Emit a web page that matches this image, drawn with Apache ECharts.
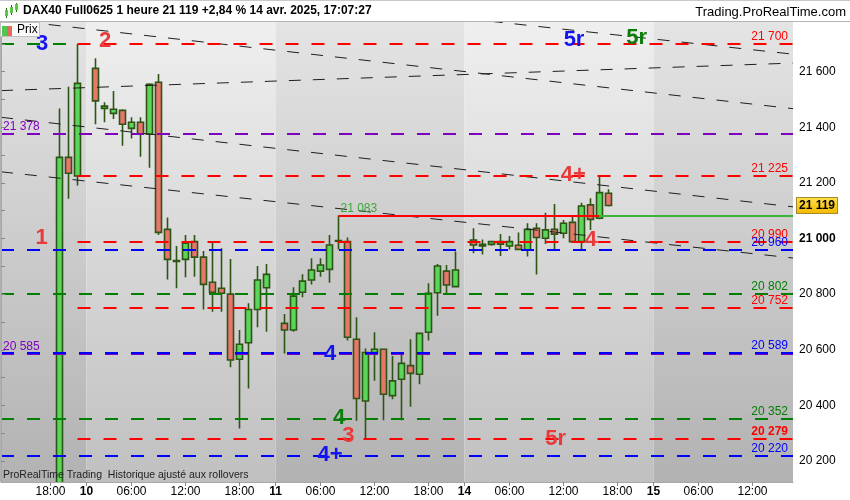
<!DOCTYPE html>
<html>
<head>
<meta charset="utf-8">
<script src="https://cdn.jsdelivr.net/npm/echarts/dist/echarts.min.js"></script>
<style>
html,body{margin:0;padding:0;background:#fff;}
#chart{width:850px;height:500px;}
</style>
</head>
<body>
<div id="chart"></div>
<script>
// ---------------- data ----------------
const tradingDays = ['09', '10', '11', '14', '15'];
const dayFirstHour = [13, 1, 1, 1, 1];
const dayLastHour = [21, 21, 21, 21, 16];
const timeLabelHours = ['06', '12', '18'];

// hourly bars, starting at category index FIRST_BAR (null = no bar)
const FIRST_BAR = 6;
const opens = [19900,21292,21225,null,
  21612,21468,21450,21461,21396,21418,21375,21562,21033,20918,20925,20989,20933,20843,20821,20800,20566,20625,20745,20823,null,
  20695,20671,20807,20851,20883,20889,20990,20989,20638,20416,20590,20602,20435,20494,20543,20512,20663,20805,20883,20827,null,
  20995,20979,20979,20989,20973,20976,20959,21037,21001,21033,21019,21058,20989,21121,21073,21163];
const closes = [21292,21235,21558,null,
  21495,21476,21465,21411,21418,21375,21555,21022,20925,20921,20983,20933,20835,20807,20803,20563,20620,20745,20851,20871,null,
  20671,20793,20847,20887,20905,20977,20993,20645,20425,20590,20602,20440,20488,20551,20515,20659,20803,20901,20833,20887,null,
  20977,20973,20989,20980,20989,20961,21033,21004,21031,21016,21055,20989,21117,21069,21165,21119];
const lows = [19850,21143,21191,null,
  21411,21418,21430,21334,21360,21294,21255,21013,20853,20821,20861,20863,20745,20737,20737,20537,20317,20461,20681,20665,null,
  20587,20665,20789,20835,20863,20841,20961,20633,20345,20279,20489,20347,20422,20347,20395,20476,20633,20722,20800,20827,null,
  20947,20943,20974,20937,20961,20958,20935,20871,20980,20961,21001,20985,20961,21031,21069,21115];
const highs = [21468,21546,21700,null,
  21648,21490,21531,21465,21436,21436,21558,21592,21076,20973,21013,21013,20955,20985,20965,20926,20671,20767,20901,20908,null,
  20729,20825,20872,20929,20929,21013,21083,21004,20717,20605,20663,20605,20578,20590,20638,20661,20839,20908,20905,20953,null,
  21037,20997,20992,21016,21009,21022,21055,21055,21093,21124,21067,21081,21129,21145,21222,21177];
const lastPrice = 21119;

const yMin = 20124.5, yMax = 21778.7;
const yLabelValues = [20200, 20400, 20600, 20800, 21000, 21200, 21400, 21600];
const yTickValues = [20200, 20300, 20400, 20500, 20600, 20700, 20800, 20900, 21000, 21100, 21200, 21300, 21400, 21500, 21600, 21700];

// horizontal levels (bar index where they start / end, null = chart edge)
const levelValues  = [21700, 21700, 21378, 21225, 21083, 21083, 20990, 20960, 20802, 20752, 20585, 20589, 20352, 20279, 20220];
const levelFromBar = [null,  8,     null,  8,     37,    66,    8,     null,  null,  8,     null,  null,  null,  8,     null];
const levelToBar   = [8,     null,  null,  null,  66,    null,  null,  null,  null,  null,  null,  null,  null,  null,  null];

// trend lines: [slotStart, priceStart, slotEnd, priceEnd] (slot units of the time axis)
const trendA = [0, 21789, 88, 21467];
const trendB = [33.2, 21856, 88, 21663];
const trendC = [0, 21532, 88, 21631];
const trendD = [0, 21436, 88, 21114];
const trendE = [0, 21240, 88, 20930];

// wave annotations
const annoTexts  = ['3', '2', '1', '5r', '5r', '4+', '4', '4', '4', '3', '4+', '5r'];
const annoSlots  = [4.56, 11.56, 4.52, 63.67, 70.63, 63.59, 65.53, 36.56, 37.56, 38.59, 36.56, 61.64];
const annoPrices = [21701, 21710, 21001, 21714, 21720, 21228, 20995, 20585, 20356, 20291, 20221, 20279];

// ---------------- build ----------------
const RED = '#ff0000', BLUE = '#0000ff', GREEN = '#008000', PURPLE = '#8000c0';
const ARED = '#e83a3a', ABLUE = '#1414f0', AGREEN = '#0b7d0b';
const annoColors = [ABLUE, ARED, ARED, ABLUE, AGREEN, ARED, ARED, ABLUE, AGREEN, ARED, ABLUE, ARED];
const levelStyle = [
  {c: GREEN, solid: false, label: null},
  {c: RED, solid: false, label: 'right'},
  {c: PURPLE, solid: false, label: 'left'},
  {c: RED, solid: false, label: 'right'},
  {c: RED, solid: true, label: 'left', lc: '#3aa83a'},
  {c: '#3cb43c', solid: true, label: null},
  {c: RED, solid: false, label: 'right'},
  {c: BLUE, solid: false, label: 'right'},
  {c: GREEN, solid: false, label: 'right'},
  {c: RED, solid: false, label: 'right'},
  {c: PURPLE, solid: false, label: 'left'},
  {c: BLUE, solid: false, label: 'right'},
  {c: GREEN, solid: false, label: 'right'},
  {c: RED, solid: false, label: 'right', bold: true},
  {c: BLUE, solid: false, label: 'right'}
];

const fmt = v => String(v).replace(/\B(?=(\d{3})+(?!\d))/g, ' ');

const categories = [];
const dayStartIdx = [];
tradingDays.forEach((d, di) => {
  dayStartIdx.push(categories.length);
  for (let h = dayFirstHour[di]; h <= dayLastHour[di]; h++) {
    categories.push(d + ' ' + String(h).padStart(2, '0') + ':00');
  }
});
const N = categories.length;

const candleData = categories.map((c, i) => {
  const j = i - FIRST_BAR;
  if (j < 0 || j >= opens.length || opens[j] == null) return ['-', '-', '-', '-'];
  return [opens[j], closes[j], lows[j], highs[j]];
});

const isLabelCat = (idx, val) => {
  const parts = val.split(' ');
  const hh = parts[1].slice(0, 2);
  if (timeLabelHours.indexOf(hh) >= 0) return true;
  return hh === '01' && idx > 0;
};

// background day bands
const bandEdges = [0];
for (let k = 1; k < dayStartIdx.length; k++) bandEdges.push(dayStartIdx[k] + 0.5);
bandEdges.push(N);
const lightGrad = () => new echarts.graphic.LinearGradient(0, 0, 0, 1, [{offset: 0, color: '#efefef'}, {offset: 1, color: '#c0c0c0'}]);
const darkGrad = () => new echarts.graphic.LinearGradient(0, 0, 0, 1, [{offset: 0, color: '#e4e4e4'}, {offset: 1, color: '#b2b2b2'}]);
const bandData = [];
for (let k = 0; k < bandEdges.length - 1; k++) {
  bandData.push([{xAxis: bandEdges[k], itemStyle: {color: k % 2 === 0 ? darkGrad() : lightGrad()}}, {xAxis: bandEdges[k + 1]}]);
}

const levelLines = levelValues.map((v, i) => {
  const st = levelStyle[i];
  const from = levelFromBar[i] == null ? 0 : levelFromBar[i] + 0.5;
  const to = levelToBar[i] == null ? N : levelToBar[i] + 0.5;
  const lbl = st.label ? {
    show: true,
    position: st.label === 'right' ? 'insideEndTop' : 'insideStartTop',
    distance: st.label === 'right' ? [5, 1] : [2, 1],
    formatter: fmt(v),
    color: st.lc || st.c,
    fontSize: 12,
    fontWeight: st.bold ? 'bold' : 'normal'
  } : {show: false};
  return [
    {coord: [from, v], lineStyle: {color: st.c, width: 2, type: st.solid ? 'solid' : [13, 13]}, label: lbl},
    {coord: [to, v]}
  ];
});

const trendSeries = [trendA, trendB, trendC, trendD, trendE].map(t => ({
  type: 'line', xAxisIndex: 1, yAxisIndex: 0, z: 3, silent: true,
  data: [[t[0], t[1]], [t[2], t[3]]],
  symbol: 'none', clip: true,
  lineStyle: {color: '#1e1e1e', width: 1, type: [12, 12]}
}));

const FONT = 'Arial, "Liberation Sans", sans-serif';

const option = {
  animation: false,
  backgroundColor: '#ffffff',
  textStyle: {fontFamily: FONT},
  grid: {left: 1, right: 57, top: 22, bottom: 18, containLabel: false},
  xAxis: [
    {
      type: 'category', data: categories, boundaryGap: true, z: 20,
      axisLine: {show: true, lineStyle: {color: '#a8a8a8'}},
      axisTick: {show: true, length: 4, alignWithLabel: true, interval: isLabelCat, lineStyle: {color: '#888'}},
      axisLabel: {
        interval: isLabelCat, color: '#000', fontSize: 12, margin: 4,
        formatter: v => {
          const p = v.split(' ');
          return p[1] === '01:00' ? '{d|' + String(parseInt(p[0], 10)) + '}' : p[1];
        },
        rich: {d: {fontWeight: 'bold', fontSize: 12, color: '#000', fontFamily: FONT}}
      },
      splitLine: {show: false}
    },
    {type: 'value', min: 0, max: N, show: false}
  ],
  yAxis: {
    type: 'value', position: 'right', min: yMin, max: yMax, scale: true, z: 20,
    axisLine: {show: true, lineStyle: {color: '#a8a8a8'}},
    axisTick: {show: true, length: 4, customValues: yTickValues, lineStyle: {color: '#888'}},
    axisLabel: {
      customValues: yLabelValues, color: '#000', fontSize: 12, margin: 6,
      formatter: v => v === 21000 ? '{b|' + fmt(v) + '}' : fmt(v),
      rich: {b: {fontWeight: 'bold', fontSize: 12, color: '#000', fontFamily: FONT}}
    },
    splitLine: {show: false}
  },
  series: [
    {
      type: 'line', xAxisIndex: 1, yAxisIndex: 0, data: [[0, yMin]], symbol: 'none', silent: true,
      lineStyle: {width: 0, opacity: 0},
      markArea: {silent: true, data: bandData}
    },
    {
      name: 'Prix', type: 'candlestick', xAxisIndex: 0, yAxisIndex: 0, z: 2,
      data: candleData, barWidth: 7, clip: true,
      itemStyle: {
        color: '#5ad65a', color0: '#e8766d',
        borderColor: '#2d5514', borderColor0: '#2d5514', borderWidth: 1.6
      }
    },
    ...trendSeries,
    {
      type: 'line', xAxisIndex: 1, yAxisIndex: 0, data: [], symbol: 'none', silent: true,
      markLine: {silent: true, symbol: ['none', 'none'], animation: false, data: levelLines}
    },
    {
      type: 'line', xAxisIndex: 1, yAxisIndex: 0, data: [], symbol: 'none', silent: true,
      markLine: {
        silent: true, symbol: ['none', 'none'], animation: false,
        lineStyle: {color: 'rgba(0,0,0,0)', width: 1},
        data: [{yAxis: lastPrice}],
        label: {
          show: true, position: 'end', distance: 4, formatter: fmt(lastPrice),
          color: '#000', fontWeight: 'bold', fontSize: 12,
          backgroundColor: new echarts.graphic.LinearGradient(0, 0, 0, 1, [{offset: 0, color: '#ffe14a'}, {offset: 1, color: '#f2b800'}]),
          borderColor: '#a58a2a', borderWidth: 1, padding: [2, 2, 1, 2]
        }
      }
    },
    {
      type: 'line', xAxisIndex: 1, yAxisIndex: 0, data: [], symbol: 'none', silent: true,
      markPoint: {
        silent: true, symbol: 'circle', symbolSize: 0, animation: false,
        data: annoTexts.map((t, i) => ({
          name: t, coord: [annoSlots[i], annoPrices[i]],
          label: {show: true, position: 'inside', formatter: t, color: annoColors[i], fontSize: 22, fontWeight: 'bold', fontFamily: FONT}
        }))
      }
    }
  ],
  graphic: [
    // mask below the plot so bars running off the bottom stay inside the plot
    {type: 'rect', shape: {x: 0, y: 482, width: 794, height: 18}, style: {fill: '#ffffff'}, z: 10},
    {type: 'rect', shape: {x: 0, y: 0, width: 850, height: 21}, style: {fill: '#ffffff'}, z: 100},
    {type: 'line', shape: {x1: 0, y1: 21.5, x2: 850, y2: 21.5}, style: {stroke: '#b5b5b5', lineWidth: 1}, z: 101},
    {type: 'line', shape: {x1: 0, y1: 0.5, x2: 850, y2: 0.5}, style: {stroke: '#c8c8c8', lineWidth: 1}, z: 101},
    {type: 'line', shape: {x1: 0.5, y1: 21, x2: 0.5, y2: 482}, style: {stroke: '#b0b0b0', lineWidth: 1}, z: 101},
    // header icon
    {type: 'line', shape: {x1: 6.5, y1: 8, x2: 6.5, y2: 18}, style: {stroke: '#2d6a14', lineWidth: 1}, z: 101},
    {type: 'rect', shape: {x: 5, y: 10, width: 3, height: 6}, style: {fill: '#57c93f'}, z: 102},
    {type: 'line', shape: {x1: 11.5, y1: 5, x2: 11.5, y2: 15}, style: {stroke: '#2d6a14', lineWidth: 1}, z: 101},
    {type: 'rect', shape: {x: 10, y: 7, width: 3, height: 6}, style: {fill: '#57c93f'}, z: 102},
    {type: 'line', shape: {x1: 16.5, y1: 3, x2: 16.5, y2: 12}, style: {stroke: '#2d6a14', lineWidth: 1}, z: 101},
    {type: 'rect', shape: {x: 15, y: 4, width: 3, height: 6}, style: {fill: '#57c93f'}, z: 102},
    {type: 'text', x: 23, y: 11, z: 102, style: {text: 'DAX40 Full0625 1 heure 21 119 +2,84 % 14 avr. 2025, 17:07:27', fontSize: 12, fontWeight: 'bold', fontFamily: FONT, fill: '#000', textAlign: 'left', textVerticalAlign: 'middle', align: 'left', verticalAlign: 'middle'}},
    {type: 'text', x: 846, y: 12, z: 102, style: {text: 'Trading.ProRealTime.com', fontSize: 13, fontFamily: FONT, fill: '#000', textAlign: 'right', textVerticalAlign: 'middle', align: 'right', verticalAlign: 'middle'}},
    // legend box
    {type: 'rect', shape: {x: 0.5, y: 22.5, width: 39, height: 14}, style: {fill: '#fafafa', stroke: '#c0c0c0', lineWidth: 1}, z: 102},
    {type: 'rect', shape: {x: 2, y: 26, width: 5, height: 10}, style: {fill: '#4fc74f'}, z: 103},
    {type: 'rect', shape: {x: 7, y: 26, width: 5, height: 10}, style: {fill: '#e8675f'}, z: 103},
    {type: 'text', x: 17, y: 30, z: 103, style: {text: 'Prix', fontSize: 12, fontFamily: FONT, fill: '#000', textAlign: 'left', textVerticalAlign: 'middle', align: 'left', verticalAlign: 'middle'}},
    // footnote
    {type: 'text', x: 3, y: 475, z: 103, style: {text: 'ProRealTime Trading  Historique ajusté aux rollovers', fontSize: 10.5, fontFamily: FONT, fill: '#222', textAlign: 'left', textVerticalAlign: 'middle', align: 'left', verticalAlign: 'middle'}}
  ]
};

const chart = echarts.init(document.getElementById('chart'), null, {renderer: 'canvas'});
chart.setOption(option);
</script>
</body>
</html>
